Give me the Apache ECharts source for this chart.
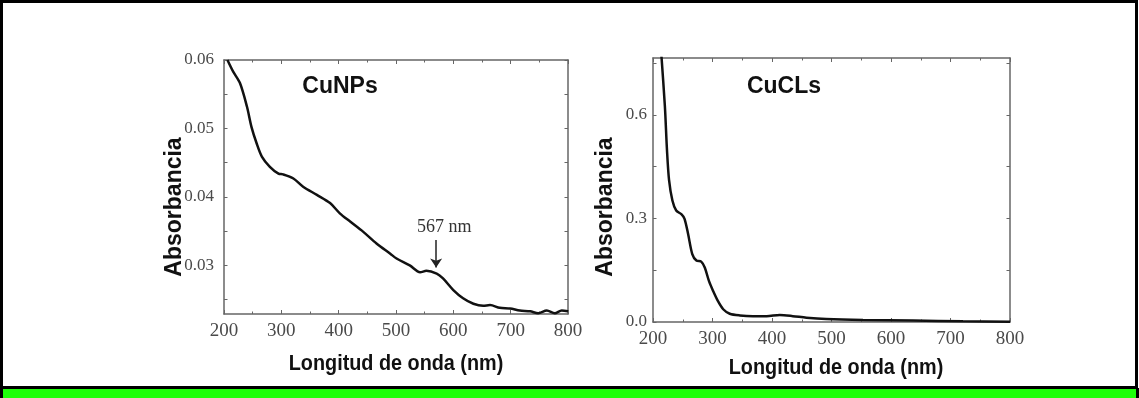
<!DOCTYPE html>
<html>
<head>
<meta charset="utf-8">
<script src="https://cdn.jsdelivr.net/npm/echarts@6/dist/echarts.min.js"></script>
<style>
  html, body { margin: 0; padding: 0; background: #fff; }
  #chart { width: 1139px; height: 398px; }
</style>
</head>
<body>
<div id="chart"></div>
<script>
// CuNPs spectrum (wavelength nm / absorbance)
const cunpsWl = [206, 216, 228, 240, 248, 257, 266, 280, 295, 303, 321, 338, 362, 385, 402, 420, 443, 466, 490, 501, 524, 542, 553, 571, 582, 600, 617, 635, 652, 664, 681, 699, 716, 734, 748, 763, 777, 789, 800]
const cunpsAbs = [0.0600, 0.0583, 0.0566, 0.0532, 0.0502, 0.0478, 0.0459, 0.0444, 0.0434, 0.0433, 0.0427, 0.0415, 0.0403, 0.0391, 0.0376, 0.0364, 0.0349, 0.0332, 0.0317, 0.0310, 0.0300, 0.0290, 0.0292, 0.0288, 0.0281, 0.0264, 0.0252, 0.0244, 0.0241, 0.0242, 0.0238, 0.0237, 0.0234, 0.0233, 0.0230, 0.0234, 0.0230, 0.0234, 0.0233]
// CuCLs spectrum
const cuclsWl = [213, 220, 223.5, 227, 232.6, 239, 248, 253, 259, 266, 273, 281, 287, 294, 301, 309, 318, 329, 346, 368, 391, 413, 435, 458, 491, 553, 637, 721, 800]
const cuclsAbs = [0.80, 0.624, 0.498, 0.411, 0.352, 0.323, 0.312, 0.299, 0.255, 0.197, 0.178, 0.175, 0.158, 0.119, 0.090, 0.061, 0.037, 0.024, 0.019, 0.017, 0.017, 0.020, 0.017, 0.0125, 0.0087, 0.0058, 0.004, 0.002, 0.001]

const cunpsYTicks = [0.03, 0.04, 0.05, 0.06]
const cunpsYMinor = [0.025, 0.035, 0.045, 0.055]
const cuclsYTicks = [0.0, 0.3, 0.6]
const cuclsYMinor = [0.15, 0.45, 0.75]
const peakLabel = '567 nm'
const peakWl = 570

const axisColor = '#666'
const labelColor = '#4a4a4a'
const serif = "'Liberation Serif', 'DejaVu Serif', serif"
const sans = "'Liberation Sans', Arial, sans-serif"

const xAxisFor = (grid, position, showLabel) => ({
  type: 'value',
  gridIndex: grid,
  position: position,
  min: 200,
  max: 800,
  interval: 100,
  axisLine: { show: true, onZero: false, lineStyle: { color: axisColor, width: 1.5 } },
  axisTick: { show: true, inside: true, length: 4, lineStyle: { color: axisColor } },
  minorTick: { show: true, splitNumber: 2, length: 2.5, lineStyle: { color: axisColor } },
  splitLine: { show: false },
  axisLabel: { show: showLabel, color: labelColor, fontFamily: serif, fontSize: 19, margin: 8 },
})

const yAxisFor = (grid, position, min, max, ticks, minor, digits, showLabel) => ({
  type: 'value',
  gridIndex: grid,
  position: position,
  min: min,
  max: max,
  axisLine: { show: true, onZero: false, lineStyle: { color: axisColor, width: 1.5 } },
  axisTick: { show: true, inside: true, length: 3.5, customValues: ticks.concat(minor), lineStyle: { color: axisColor } },
  splitLine: { show: false },
  axisLabel: {
    show: showLabel,
    customValues: ticks,
    color: labelColor,
    fontFamily: serif,
    fontSize: 17,
    margin: digits === 2 ? 10 : 6,
    formatter(v) {
      return v.toFixed(digits)
    },
  },
})

const boldText = (x, y, text, size, extra) => Object.assign({
  type: 'text',
  x: x,
  y: y,
  style: { text: text, fontFamily: sans, fontWeight: 'bold', fontSize: size, fill: '#111', align: 'center', verticalAlign: 'middle' },
}, extra || {})

const chart = echarts.init(document.getElementById('chart'), null, { renderer: 'canvas' })
chart.setOption({
  animation: false,
  backgroundColor: '#fff',
  grid: [
    { left: 224, top: 60, width: 344, height: 254 },
    { left: 653, top: 58, width: 357, height: 264 },
  ],
  xAxis: [
    xAxisFor(0, 'bottom', true),
    xAxisFor(0, 'top', false),
    xAxisFor(1, 'bottom', true),
    xAxisFor(1, 'top', false),
  ],
  yAxis: [
    yAxisFor(0, 'left', 0.0229, 0.06, cunpsYTicks, cunpsYMinor, 2, true),
    yAxisFor(0, 'right', 0.0229, 0.06, cunpsYTicks, cunpsYMinor, 2, false),
    yAxisFor(1, 'left', 0, 0.765, cuclsYTicks, cuclsYMinor, 1, true),
    yAxisFor(1, 'right', 0, 0.765, cuclsYTicks, cuclsYMinor, 1, false),
  ],
  series: [
    {
      type: 'line',
      xAxisIndex: 0,
      yAxisIndex: 0,
      data: cunpsWl.map((w, i) => [w, cunpsAbs[i]]),
      showSymbol: false,
      smooth: 0.3,
      clip: true,
      lineStyle: { color: '#111', width: 2.5 },
      markLine: {
        silent: true,
        symbol: ['none', 'arrow'],
        symbolSize: 9,
        lineStyle: { color: '#222', width: 1.5, type: 'solid' },
        label: {
          show: true,
          position: 'start',
          formatter: peakLabel,
          fontFamily: serif,
          fontSize: 18,
          color: '#333',
          distance: 4,
          padding: [0, 0, 0, 16],
        },
        data: [[{ coord: [peakWl, 0.0337] }, { coord: [peakWl, 0.0297] }]],
      },
    },
    {
      type: 'line',
      xAxisIndex: 2,
      yAxisIndex: 2,
      data: cuclsWl.map((w, i) => [w, cuclsAbs[i]]),
      showSymbol: false,
      smooth: 0.3,
      clip: true,
      lineStyle: { color: '#111', width: 2.5 },
    },
  ],
  graphic: [
    { type: 'rect', shape: { x: 1.5, y: 1.5, width: 1135, height: 386 }, style: { fill: 'none', stroke: '#000', lineWidth: 3 } },
    { type: 'rect', shape: { x: 0, y: 389, width: 1139, height: 9 }, style: { fill: '#1eff0a' } },
    { type: 'rect', shape: { x: 0, y: 388, width: 3, height: 10 }, style: { fill: '#000' } },
    { type: 'rect', shape: { x: 1136, y: 388, width: 3, height: 10 }, style: { fill: '#000' } },
    boldText(340, 87, 'CuNPs', 23),
    boldText(784, 87, 'CuCLs', 23),
    boldText(175, 207, 'Absorbancia', 23, { rotation: Math.PI / 2 }),
    boldText(606, 207, 'Absorbancia', 23, { rotation: Math.PI / 2 }),
    boldText(396, 364, 'Longitud de onda (nm)', 22, { scaleX: 0.9 }),
    boldText(836, 368, 'Longitud de onda (nm)', 22, { scaleX: 0.9 }),
  ],
})
</script>
</body>
</html>
